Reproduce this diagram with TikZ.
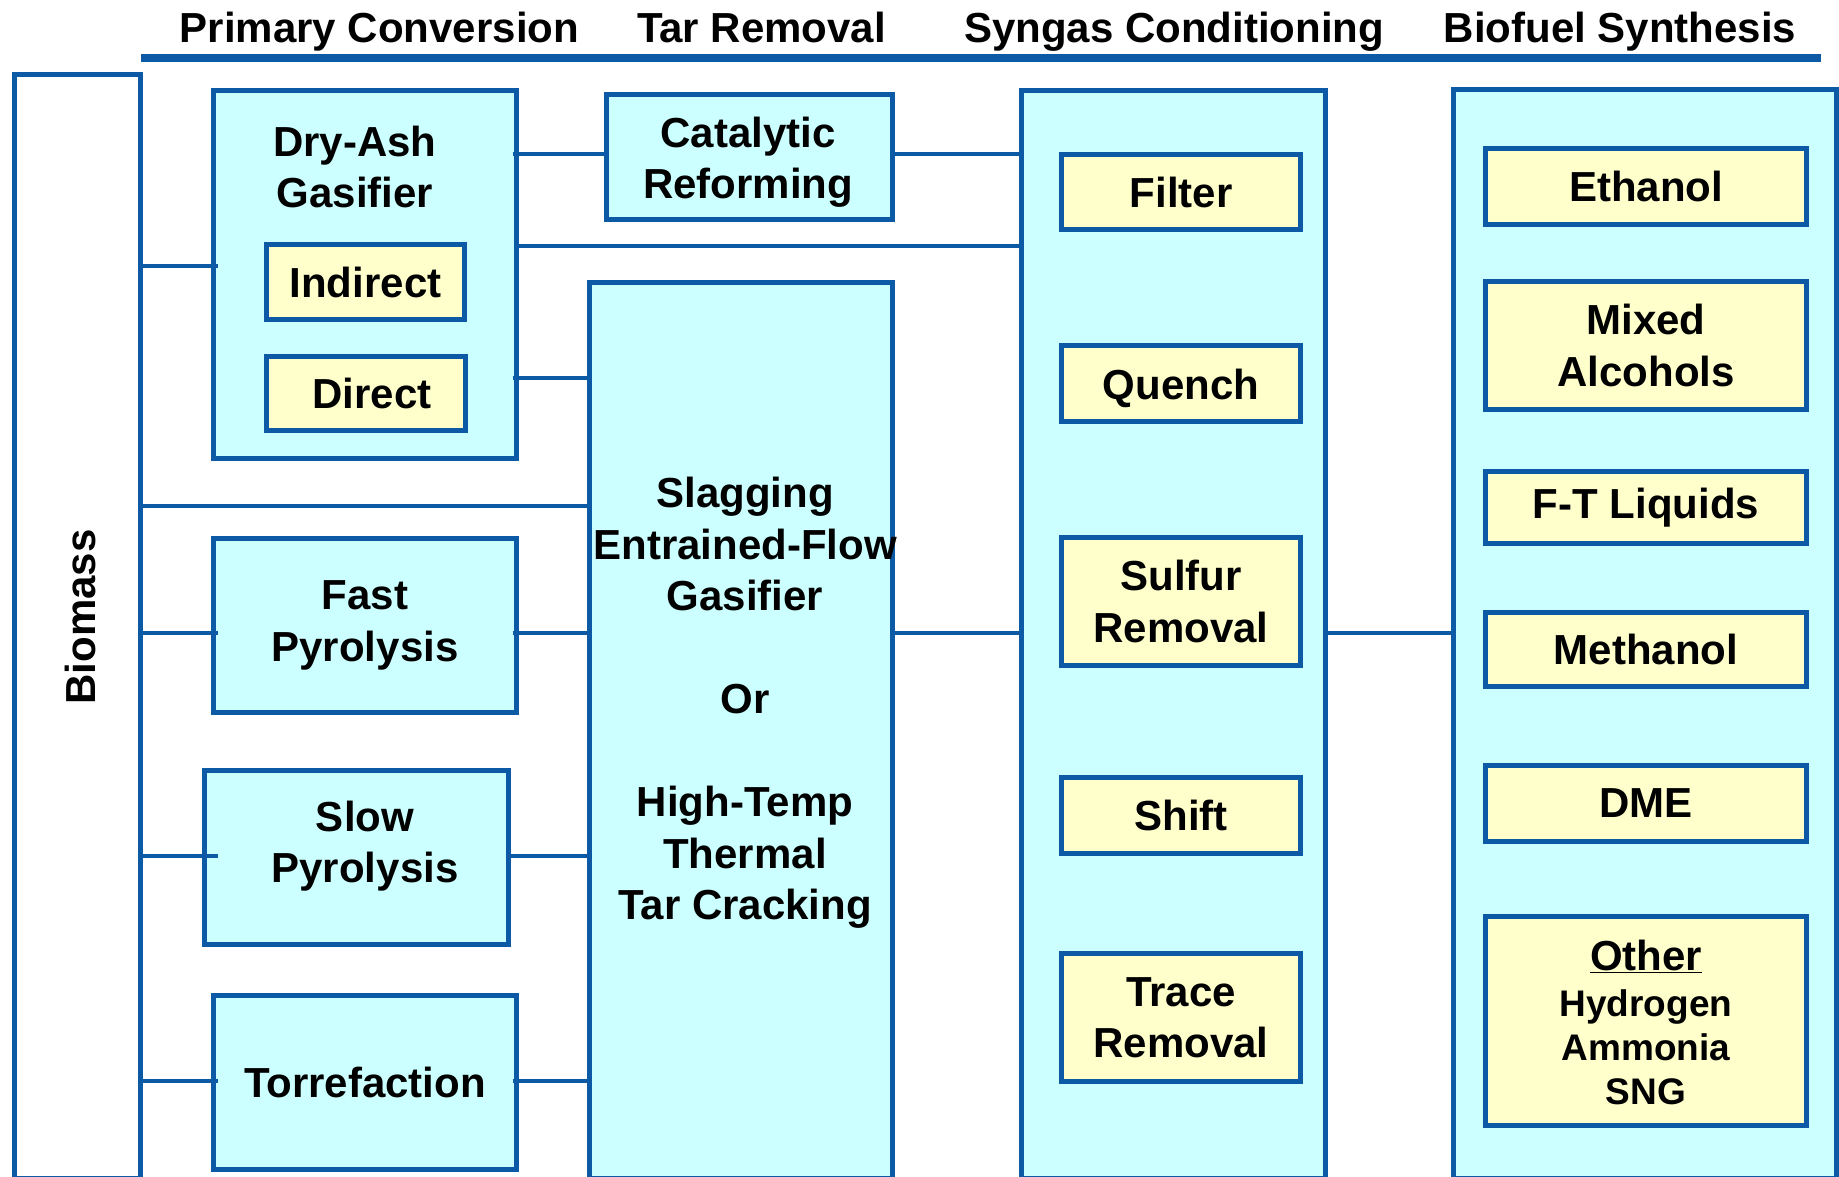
\documentclass[tikz,border=0pt]{standalone}
\usepackage{fontspec}
\setmainfont{Liberation Sans}

\definecolor{lineblue}{RGB}{12,90,166}
\definecolor{unitfill}{RGB}{204,255,255}
\definecolor{optfill}{RGB}{255,255,204}

\newcommand\blkfont{\fontsize{42}{51.5}\selectfont\bfseries}
\newcommand\smlfont{\fontsize{37}{44}\selectfont\bfseries}

\begin{document}
\begin{tikzpicture}[
    x=1pt, y=-1pt,
    unit/.style={shape=rectangle, draw=lineblue, fill=unitfill, line width=5pt, inner sep=0pt, align=center, font=\blkfont},
    option/.style={unit, fill=optfill},
    stock/.style={unit, fill=white},
    caption/.style={font=\blkfont, align=center},
    heading/.style={anchor=base, font=\blkfont},
    link/.style={draw=lineblue, line width=4.7pt},
  ]
    \useasboundingbox (0,0) rectangle (1839,1176);
    \clip (0,0) rectangle (1839,1176);

    % stage headings
    \node[heading] (h1) at (379.5,42) {Primary Conversion};
    \node[heading] (h2) at (761.5,42) {Tar Removal};
    \node[heading] (h3) at (1174,42) {Syngas Conditioning};
    \node[heading] (h4) at (1620,42) {Biofuel Synthesis};
    \draw[draw=lineblue, line width=8pt] (141,58) -- (1821,58);

    % feedstock
    \node[stock, minimum width=126.5pt, minimum height=1103.5pt] (biomass) at (77.25,626.25) {};
    \node[caption, rotate=90] (biomasslbl) at (80,617) {Biomass};

    % primary conversion
    \node[unit, minimum width=303pt, minimum height=368pt] (dryash) at (365,274.5) {};
    \node[caption] (dryashlbl) at (355,167) {Dry-Ash\\Gasifier};
    \node[option, minimum width=198pt, minimum height=75pt] (indirect) at (365.5,282) {Indirect};
    \node[option, minimum width=199pt, minimum height=74pt] (direct) at (366,393.5) {\ Direct};
    \node[unit, minimum width=303pt, minimum height=174pt] (fast) at (365,625.5) {Fast\\Pyrolysis};
    \node[unit, minimum width=304pt, minimum height=174pt] (slow) at (356.5,857.5) {};
    \node[caption] (slowlbl) at (365,846) {Slow\\Pyrolysis};
    \node[unit, minimum width=303pt, minimum height=174pt] (torref) at (365,1082.5) {Torrefaction};

    % tar removal
    \node[unit, minimum width=286pt, minimum height=125pt] (catalytic) at (749.5,157) {};
    \node[caption] (catalyticlbl) at (748,162) {Catalytic\\Reforming};
    \node[unit, minimum width=303pt, minimum height=895.5pt] (slagging) at (741,730.25) {};
    \node[caption] (slagginglbl) at (745,703)
      {Slagging\\Entrained-Flow\\Gasifier\\[51.5pt]Or\\[51.5pt]High-Temp\\Thermal\\Tar Cracking};

    % syngas conditioning
    \node[unit, minimum width=304pt, minimum height=1087.5pt] (syngas) at (1173.5,634.25) {};
    \node[option, minimum width=239pt, minimum height=75pt] (filter) at (1181,192) {Filter};
    \node[option, minimum width=239pt, minimum height=76pt] (quench) at (1181,383.5) {};
    \node[caption] (quenchlbl) at (1181,388) {Quench};
    \node[option, minimum width=239pt, minimum height=128pt] (sulfur) at (1181,601.5) {Sulfur\\Removal};
    \node[option, minimum width=239pt, minimum height=76pt] (shift) at (1181,815.5) {Shift};
    \node[option, minimum width=239pt, minimum height=128pt] (trace) at (1181,1017.5) {Trace\\Removal};

    % biofuel synthesis
    \node[unit, minimum width=383.5pt, minimum height=1088.5pt] (biofuel) at (1644.75,633.75) {};
    \node[option, minimum width=321pt, minimum height=76pt] (ethanol) at (1646,186.5) {Ethanol};
    \node[option, minimum width=321pt, minimum height=128pt] (mixed) at (1646,345.5) {Mixed\\Alcohols};
    \node[option, minimum width=321pt, minimum height=72pt] (ft) at (1646,507.5) {F-T Liquids};
    \node[option, minimum width=321pt, minimum height=74pt] (methanol) at (1646,649.5) {Methanol};
    \node[option, minimum width=321pt, minimum height=76pt] (dme) at (1646,803.5) {DME};
    \node[option, minimum width=321pt, minimum height=209pt] (other) at (1646,1021) {};
    \node[caption] (otherlbl) at (1646,1022.5)
      {\underline{Other}\\[-5pt]\smlfont Hydrogen\\[-7.5pt]\smlfont Ammonia\\[-7.5pt]\smlfont SNG};

    % biomass feed lines
    \draw[link, shorten >=-6.5pt] (biomass.east |- 0,266) -- (dryash.west |- 0,266);
    \draw[link] (biomass.east |- 0,506) -- (slagging.west |- 0,506);
    \draw[link, shorten >=-6.5pt] (biomass.east |- 0,633) -- (fast.west |- 0,633);
    \draw[link, shorten >=-15.5pt] (biomass.east |- 0,856) -- (slow.west |- 0,856);
    \draw[link, shorten >=-6.5pt] (biomass.east |- 0,1081) -- (torref.west |- 0,1081);

    % into tar removal
    \draw[link, shorten <=-6.5pt] (dryash.east |- 0,154) -- (catalytic.west |- 0,154);
    \draw[link, shorten <=-6.5pt] (dryash.east |- 0,378) -- (slagging.west |- 0,378);
    \draw[link, shorten <=-6.5pt] (fast.east |- 0,633) -- (slagging.west |- 0,633);
    \draw[link] (slow.east |- 0,856) -- (slagging.west |- 0,856);
    \draw[link, shorten <=-6.5pt] (torref.east |- 0,1081) -- (slagging.west |- 0,1081);

    % into syngas conditioning and synthesis
    \draw[link] (catalytic.east |- 0,154) -- (syngas.west |- 0,154);
    \draw[link] (dryash.east |- 0,246) -- (syngas.west |- 0,246);
    \draw[link] (slagging.east |- 0,633) -- (syngas.west |- 0,633);
    \draw[link] (syngas.east |- 0,633) -- (biofuel.west |- 0,633);

  \end{tikzpicture}
\end{document}
